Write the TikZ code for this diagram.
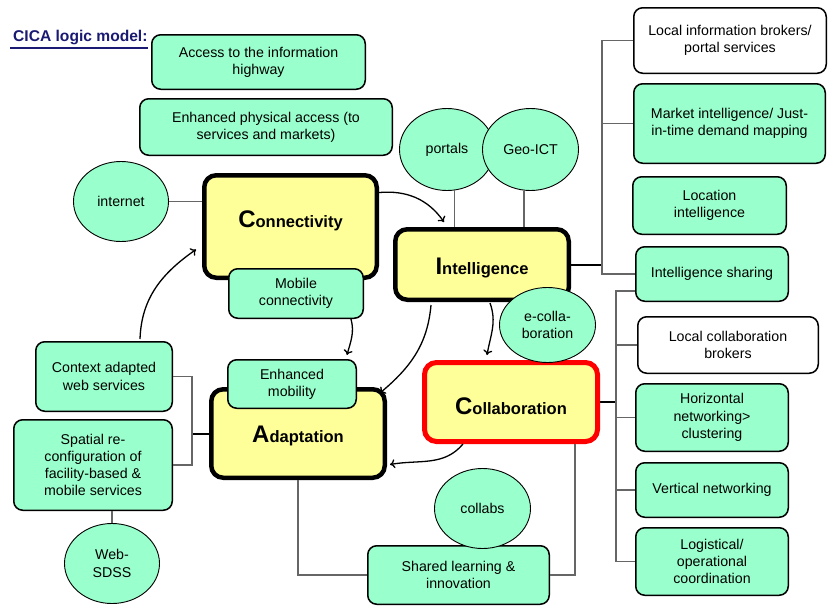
\documentclass[tikz,border=0pt]{standalone}
\usepackage{fontspec}
\setmainfont{Liberation Sans}
\usetikzlibrary{arrows.meta,shapes.geometric}
\definecolor{mint}{HTML}{99FFCC}
\definecolor{lemon}{HTML}{FFFF99}
\definecolor{titlenavy}{HTML}{1A1A73}
\definecolor{linegray}{HTML}{666666}
\newcommand{\hdtext}[2]{{\fontsize{24}{26}\selectfont\bfseries #1}{\fontsize{16.5}{18}\selectfont\bfseries #2}}
\begin{document}
\begin{tikzpicture}[x=1pt,y=-1pt,
 every node/.style={font=\fontsize{14.2}{17.2}\selectfont, inner sep=0pt},
 gbox/.style={draw=black, line width=1.5pt, fill=mint, rounded corners=9pt, align=center},
 wbox/.style={gbox, fill=white},
 ybox/.style={draw=black, line width=4.5pt, fill=lemon, rounded corners=12pt},
 rbox/.style={ybox, draw=red},
 oval/.style={ellipse, draw=black, line width=0.9pt, fill=mint, align=center},
 tline/.style={draw=linegray, line width=1.3pt},
 sline/.style={draw=black, line width=2pt},
 arr/.style={draw=black, line width=1.3pt, -{To[length=5pt,width=9pt]}},
]
\useasboundingbox (0,0) rectangle (828,608);
\fill[white] (0,0) rectangle (828,608);

% title
\node[anchor=base west, font=\fontsize{15.6}{18}\selectfont\bfseries, text=titlenavy] (title) at (13,41.7) {CICA logic model:};
\draw[titlenavy, line width=1.6pt] ([xshift=-3,yshift=-3]title.south west) -- ([yshift=-3]title.south east);

% top boxes
\node[gbox, minimum width=213.5, minimum height=54.5] (access) at (258.5,62) {Access to the information\\highway};
\node[gbox, minimum width=252.5, minimum height=56.5] (phys) at (266,127) {Enhanced physical access (to\\services and markets)};

% connectivity
\node[oval, minimum width=95, minimum height=80] (internet) at (121,201.5) {internet};
\node[ybox, minimum width=172.5, minimum height=102.5, text height=17pt, text depth=15pt] (conn) at (290.5,226.5) {\hdtext{C}{onnectivity}};
\node[gbox, minimum width=134.5, minimum height=49.5] (mobile) at (296,293.5) {Mobile\\connectivity};

% intelligence
\node[ybox, minimum width=173.5, minimum height=70.5, text height=19.5pt, text depth=0pt] (intel) at (482,264.5) {\hdtext{I}{ntelligence}};
\node[oval, minimum width=95, minimum height=82] (portals) at (447,149.5) {portals};
\node[oval, minimum width=96, minimum height=82] (geo) at (530.5,149.5) {Geo-ICT};
\node[wbox, minimum width=192.5, minimum height=65.5] (lib) at (730,40.5) {Local information brokers/\\portal services};
\node[gbox, minimum width=191.5, minimum height=79.5] (mi) at (729.5,123.5) {Market intelligence/ Just-\\in-time demand mapping};
\node[gbox, minimum width=153.5, minimum height=57.5] (li) at (709.5,205.5) {Location\\intelligence};
\node[gbox, minimum width=152.5, minimum height=54.5] (ish) at (712,274) {Intelligence sharing};

% collaboration
\node[rbox, line width=5pt, minimum width=173, minimum height=79, text height=25.6pt, text depth=0pt] (collab) at (511,402) {\hdtext{C}{ollaboration}};
\node[oval, minimum width=96, minimum height=75] (ecol) at (547.5,325) {e-colla-\\boration};
\node[wbox, minimum width=180.5, minimum height=56.5] (lcb) at (728,345) {Local collaboration\\brokers};
\node[gbox, minimum width=152.5, minimum height=67.5] (hn) at (712,417.5) {Horizontal\\networking>\\clustering};
\node[gbox, minimum width=152.5, minimum height=54.5] (vn) at (712,490) {Vertical networking};
\node[gbox, minimum width=152.5, minimum height=67.5] (logi) at (712,561.5) {Logistical/\\operational\\coordination};
\node[gbox, minimum width=181.5, minimum height=58.5] (shared) at (458.5,575) {Shared learning \&\\innovation};
\node[oval, minimum width=96, minimum height=80] (collabs) at (482.5,508.5) {collabs};

% adaptation
\node[ybox, minimum width=173.5, minimum height=88.5, text height=18pt, text depth=0pt] (adapt) at (298,433.5) {\hdtext{A}{daptation}};
\node[gbox, minimum width=128.5, minimum height=48.5] (emob) at (292,384) {Enhanced\\mobility};
\node[gbox, minimum width=136.5, minimum height=69.5] (cws) at (104,376.5) {Context adapted\\web services};
\node[gbox, minimum width=158.5, minimum height=90.5] (spatial) at (93,465) {Spatial re-\\configuration of\\facility-based \&\\mobile services};
\node[oval, minimum width=95, minimum height=80] (sdss) at (112,563.5) {Web-\\SDSS};

% tree connectors
\coordinate (jI) at (602,264.5);
\draw[sline] (intel.east) -- (jI);
\draw[tline] (lib.west) -| (jI);
\draw[tline] (mi.west) -| (jI);
\draw[tline] (ish.west) -| (jI);

\coordinate (jC) at (616,402);
\draw[sline] (collab.east) -- (jC);
\draw[tline] ([yshift=-17]ish.west) -| (jC);
\draw[tline] (lcb.west) -| (jC);
\draw[tline] (hn.west) -| (jC);
\draw[tline] (vn.west) -| (jC);
\draw[tline] (logi.west) -| (jC);

\coordinate (jA) at (192,433.5);
\draw[sline] (adapt.west) -- (jA);
\draw[tline] (cws.east) -| (jA);
\draw[tline] (spatial.east) -| (jA);
\draw[tline] (adapt.south) |- (shared.west);
\draw[tline] ([xshift=64]collab.south) |- (shared.east);

\draw[tline] (internet.east) -- (internet.east -| conn.west);
\draw[tline] (portals.-80) -- (portals.-80 |- intel.north);
\draw[tline] (geo.-99) -- (geo.-99 |- intel.north);
\draw[tline] (sdss.north) -- (sdss.north |- spatial.south);

% arrows
\draw[arr] (conn.21) to[out=5,in=125] ([xshift=-38,yshift=5]intel.north);
\draw[arr] ([xshift=55]mobile.south) to[out=-75,in=75] ([xshift=55,yshift=4]emob.north);
\draw[arr] ([xshift=-51,yshift=-3]intel.south) to[out=-95,in=40] ([xshift=-7,yshift=-6]adapt.north east);
\draw[arr] ([xshift=8,yshift=-1]intel.south) to[out=-70,in=80] ([xshift=-24,yshift=5]collab.north);
\draw[arr] ([xshift=-48]collab.south) to[out=-130,in=10] ([xshift=3,yshift=-31]adapt.east);
\draw[arr] ([xshift=36,yshift=2]cws.north) to[out=88,in=-145] ([xshift=-6,yshift=-23]conn.west);
\end{tikzpicture}
\end{document}
